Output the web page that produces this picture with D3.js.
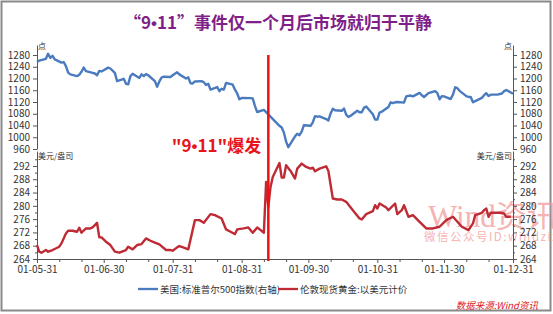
<!DOCTYPE html>
<html>
<head>
<meta charset="utf-8">
<title>9.11 gold vs S&P</title>
<script src="https://d3js.org/d3.v7.min.js"></script>
<style>
    body { margin: 0; background: #fff; }
    svg { display: block; }
    text { font-family: "Noto Sans CJK SC", "Microsoft YaHei", sans-serif; }
    .tick text { font-size: 10px; fill: #333; }
    .tick line, .domain { stroke: #555; }
    .dot { font-family: "Liberation Sans", Arial, sans-serif; }
</style>
</head>
<body>
<svg id="chart" width="553" height="314"></svg>
<script>
// data (dates as yy-mm-dd, year 2001)
const spxDates = ['01-05-31',
    '01-06-01','01-06-04','01-06-05','01-06-06','01-06-07','01-06-08','01-06-11','01-06-12','01-06-13','01-06-14','01-06-15',
    '01-06-18','01-06-19','01-06-20','01-06-21','01-06-22','01-06-25','01-06-26','01-06-27','01-06-28','01-06-29',
    '01-07-02','01-07-03','01-07-05','01-07-06','01-07-09','01-07-10','01-07-11','01-07-12','01-07-13','01-07-16','01-07-17',
    '01-07-18','01-07-19','01-07-20','01-07-23','01-07-24','01-07-25','01-07-26','01-07-27','01-07-30','01-07-31',
    '01-08-01','01-08-02','01-08-03','01-08-06','01-08-07','01-08-08','01-08-09','01-08-10','01-08-13','01-08-14','01-08-15',
    '01-08-16','01-08-17','01-08-20','01-08-21','01-08-22','01-08-23','01-08-24','01-08-27','01-08-28','01-08-29','01-08-30','01-08-31',
    '01-09-04','01-09-05','01-09-06','01-09-07','01-09-10','01-09-17','01-09-18','01-09-19','01-09-20','01-09-21',
    '01-09-24','01-09-25','01-09-26','01-09-27','01-09-28',
    '01-10-01','01-10-02','01-10-03','01-10-04','01-10-05','01-10-08','01-10-09','01-10-10','01-10-11','01-10-12','01-10-15',
    '01-10-16','01-10-17','01-10-18','01-10-19','01-10-22','01-10-23','01-10-24','01-10-25','01-10-26','01-10-29','01-10-30','01-10-31',
    '01-11-01','01-11-02','01-11-05','01-11-06','01-11-07','01-11-08','01-11-09','01-11-12','01-11-13','01-11-14','01-11-15',
    '01-11-16','01-11-19','01-11-20','01-11-21','01-11-23','01-11-26','01-11-27','01-11-28','01-11-29','01-11-30',
    '01-12-03','01-12-04','01-12-05','01-12-06','01-12-07','01-12-10','01-12-11','01-12-12','01-12-13','01-12-14','01-12-17',
    '01-12-18','01-12-19','01-12-20','01-12-21','01-12-24','01-12-26','01-12-27','01-12-28','01-12-31'];
const spxValues = [1256,
    1261,1267,1284,1270,1277,1265,1254,1256,1242,1220,1214,
    1208,1213,1223,1237,1225,1219,1217,1211,1226,1224,
    1237,1234,1219,1191,1199,1182,1180,1208,1216,1202,1214,
    1208,1215,1211,1191,1172,1190,1203,1206,1205,1211,
    1216,1221,1214,1200,1204,1184,1183,1190,1191,1187,1178,
    1182,1162,1171,1157,1165,1162,1185,1179,1162,1149,1129,1134,
    1133,1132,1106,1086,1093,1039,1033,1016,985,966,
    1003,1012,1007,1019,1041,
    1039,1051,1072,1070,1071,1062,1057,1081,1097,1092,1090,
    1098,1077,1069,1073,1090,1085,1085,1100,1105,1078,1060,1060,
    1084,1087,1103,1119,1116,1119,1120,1118,1139,1141,1142,
    1139,1151,1143,1137,1150,1157,1150,1129,1140,1139,
    1130,1145,1170,1167,1158,1140,1137,1137,1119,1123,1134,
    1143,1150,1140,1145,1145,1149,1157,1161,1148];

const goldDates = ['01-05-31','01-06-01','01-06-02','01-06-04','01-06-05','01-06-07','01-06-10','01-06-11','01-06-13','01-06-14',
    '01-06-16','01-06-18','01-06-19','01-06-20','01-06-22','01-06-24','01-06-25','01-06-27','01-06-28','01-06-29',
    '01-07-01','01-07-03','01-07-05','01-07-07','01-07-10','01-07-11','01-07-13','01-07-15','01-07-17','01-07-19',
    '01-07-21','01-07-23','01-07-25','01-07-28','01-07-30','01-07-31','01-08-02','01-08-03','01-08-05','01-08-07',
    '01-08-10','01-08-12','01-08-14','01-08-17','01-08-19','01-08-22','01-08-24','01-08-26','01-08-28','01-08-29',
    '01-09-01','01-09-03','01-09-05','01-09-07','01-09-10','01-09-11','01-09-12','01-09-13','01-09-14','01-09-17',
    '01-09-18','01-09-19','01-09-20','01-09-22','01-09-24','01-09-25','01-09-27','01-09-29','01-10-01','01-10-02',
    '01-10-03','01-10-05','01-10-08','01-10-09','01-10-11','01-10-13','01-10-15','01-10-17','01-10-20','01-10-23',
    '01-10-24','01-10-26','01-10-29','01-10-30','01-10-31','01-11-01','01-11-04','01-11-05','01-11-08','01-11-09',
    '01-11-11','01-11-12','01-11-14','01-11-16','01-11-19','01-11-22','01-11-25','01-11-28','01-12-01','01-12-04',
    '01-12-06','01-12-08','01-12-11','01-12-13','01-12-14','01-12-17','01-12-18','01-12-19','01-12-20','01-12-21',
    '01-12-23','01-12-25','01-12-27','01-12-28','01-12-30'];
const goldValues = [268.2,266.2,265.9,266.7,266.2,266.7,267.7,268.7,271.7,272.5,
    272.5,272.2,273.4,271.9,273.2,273.2,273.5,274.9,270.5,270.5,
    269.2,268.2,266.2,265.9,266.7,267.7,266.9,268.2,268.5,270.2,
    269.5,268.9,268.4,266.7,266.7,266.5,267.5,267.9,267.4,266.9,
    275.7,275.7,274.9,277.5,277.2,276.2,272.9,272.2,271.5,272.9,
    273.2,273.5,271.9,273.5,271.9,287.2,279.7,285.7,288.7,292.9,
    288.5,288.5,292.2,290.5,288.2,291.2,292.7,291.7,291.2,291.5,
    290.4,291.2,291.9,290.5,282.2,281.9,281.9,281.2,278.7,276.2,
    275.9,277.5,278.4,280.2,279.2,280.7,279.5,278.7,280.7,277.5,
    278.7,280.2,276.7,277.2,275.2,273.2,273.2,273.7,275.7,276.7,
    275.2,273.7,272.7,274.7,277.2,277.9,278.7,279.2,276.7,277.9,
    277.9,277.9,277.7,276.7,276.7];

const xTickLabels = ['01-05-31','01-06-30','01-07-31','01-08-31','01-09-30','01-10-31','01-11-30','01-12-31'];
const spxTicks = [960,1000,1040,1080,1120,1160,1200,1240,1280];
const goldTicks = [264,268,272,276,280,284,288,292];
const eventDate = '01-09-12';

const parse = d3.timeParse('%y-%m-%d');
const fmt = d3.timeFormat('%y-%m-%d');

const svg = d3.select('#chart');

// outer frame
svg.append('rect')
    .attr('x', 1.5).attr('y', 1.5).attr('width', 549).attr('height', 309)
    .attr('fill', 'none').attr('stroke', '#8a8a8a').attr('stroke-width', 2);

// title (the bullet in a latin font so it stays narrow)
const title = svg.append('text')
    .attr('x', 278).attr('y', 29)
    .attr('text-anchor', 'middle')
    .style('font-size', '17px').style('font-weight', 'bold')
    .attr('fill', '#7f1f88');
title.append('tspan').text('“9');
title.append('tspan').attr('class', 'dot').text('•');
title.append('tspan').text('11”事件仅一个月后市场就归于平静');

// scales
const left = 37, right = 513;
const xScale = d3.scaleTime()
    .domain([parse(xTickLabels[0]), parse(xTickLabels[xTickLabels.length - 1])])
    .range([left, right]);
const ySpx = d3.scaleLinear().domain([960, 1314]).range([149, 45]);
const yGold = d3.scaleLinear().domain([264, 296.5]).range([259, 151]);

// watermark sits under the axes and lines
svg.append('text')
    .attr('x', 428).attr('y', 227)
    .style('font-family', '"Liberation Serif", "Noto Sans CJK SC", serif')
    .style('font-size', '31px')
    .attr('fill', '#f29a9a').attr('opacity', 0.75)
    .text('Wind资讯');
svg.append('text')
    .attr('x', 424).attr('y', 241)
    .style('font-size', '11.5px').style('letter-spacing', '1.5px')
    .attr('fill', '#f29a9a').attr('opacity', 0.75)
    .text('微信公众号ID:windzixun');

// y axes, upper panel (S&P) and lower panel (gold), on both sides
function yAxes(scale, ticks, minor) {
    svg.append('g').attr('transform', `translate(${left},0)`)
        .call(d3.axisLeft(scale).tickValues(ticks).tickFormat(d3.format('d')).tickSize(4).tickSizeOuter(0));
    svg.append('g').attr('transform', `translate(${right},0)`)
        .call(d3.axisRight(scale).tickValues(ticks).tickFormat(d3.format('d')).tickSize(4).tickSizeOuter(0));
    if (minor) {
        svg.append('g').attr('transform', `translate(${left},0)`)
            .call(d3.axisLeft(scale).tickValues(minor).tickSize(2).tickFormat('').tickSizeOuter(0))
            .select('.domain').remove();
        svg.append('g').attr('transform', `translate(${right},0)`)
            .call(d3.axisRight(scale).tickValues(minor).tickSize(2).tickFormat('').tickSizeOuter(0))
            .select('.domain').remove();
    }
}
yAxes(ySpx, spxTicks, null);
yAxes(yGold, goldTicks, goldTicks.map(v => v + 2));

// x axis
svg.append('g').attr('transform', 'translate(0,259)')
    .call(d3.axisBottom(xScale).tickValues(xTickLabels.map(parse))
        .tickFormat(fmt).tickSize(4).tickSizeOuter(0).tickPadding(3));
const minorX = [];
xTickLabels.slice(0, -1).forEach(s => {
    const d = parse(s);
    minorX.push(d3.timeDay.offset(d, 10), d3.timeDay.offset(d, 20));
});
svg.append('g').attr('transform', 'translate(0,259)')
    .call(d3.axisBottom(xScale).tickValues(minorX).tickSize(3).tickFormat(''))
    .select('.domain').remove();

// unit labels
const unit = (x, y, anchor, t) => svg.append('text')
    .attr('x', x).attr('y', y).attr('text-anchor', anchor)
    .style('font-size', '8px').attr('fill', '#333').text(t);
unit(left + 1, 49, 'start', '点');
unit(right - 1, 49, 'end', '点');
unit(left + 1, 159, 'start', '美元/盎司');
unit(right - 1, 159, 'end', '美元/盎司');

// lines
const spx = spxDates.map((d, i) => ({ date: parse(d), value: spxValues[i] }));
const gold = goldDates.map((d, i) => ({ date: parse(d), value: goldValues[i] }));

svg.append('path').datum(spx)
    .attr('fill', 'none').attr('stroke', '#4a7bbf').attr('stroke-width', 2.4)
    .attr('stroke-linejoin', 'round')
    .attr('d', d3.line().x(d => xScale(d.date)).y(d => ySpx(d.value)));

svg.append('path').datum(gold)
    .attr('fill', 'none').attr('stroke', '#bf2b35').attr('stroke-width', 2.4)
    .attr('stroke-linejoin', 'round')
    .attr('d', d3.line().x(d => xScale(d.date)).y(d => yGold(d.value)));

// event marker
const ex = xScale(parse(eventDate));
svg.append('line')
    .attr('x1', ex).attr('x2', ex).attr('y1', 55).attr('y2', 261)
    .attr('stroke', '#f01010').attr('stroke-width', 2.5);
const note = svg.append('text')
    .attr('x', ex - 7).attr('y', 152).attr('text-anchor', 'end')
    .style('font-size', '17px').style('font-weight', 'bold')
    .attr('fill', '#e8141b');
note.append('tspan').text('"9');
note.append('tspan').attr('class', 'dot').text('•');
note.append('tspan').text('11"爆发');

// legend
const legend = [
    { x: 138, color: '#4a7bbf', label: '美国:标准普尔500指数(右轴)' },
    { x: 278, color: '#bf2b35', label: '伦敦现货黄金:以美元计价' }
];
legend.forEach(l => {
    svg.append('line').attr('x1', l.x).attr('x2', l.x + 20).attr('y1', 289).attr('y2', 289)
        .attr('stroke', l.color).attr('stroke-width', 2.3);
    svg.append('text').attr('x', l.x + 22).attr('y', 292.5)
        .style('font-size', '9.5px').attr('fill', '#333').text(l.label);
});

// source
svg.append('text')
    .attr('x', 538).attr('y', 309).attr('text-anchor', 'end')
    .style('font-size', '9.5px').style('font-style', 'italic')
    .attr('fill', '#e0201f').text('数据来源:Wind资讯');
</script>
</body>
</html>
